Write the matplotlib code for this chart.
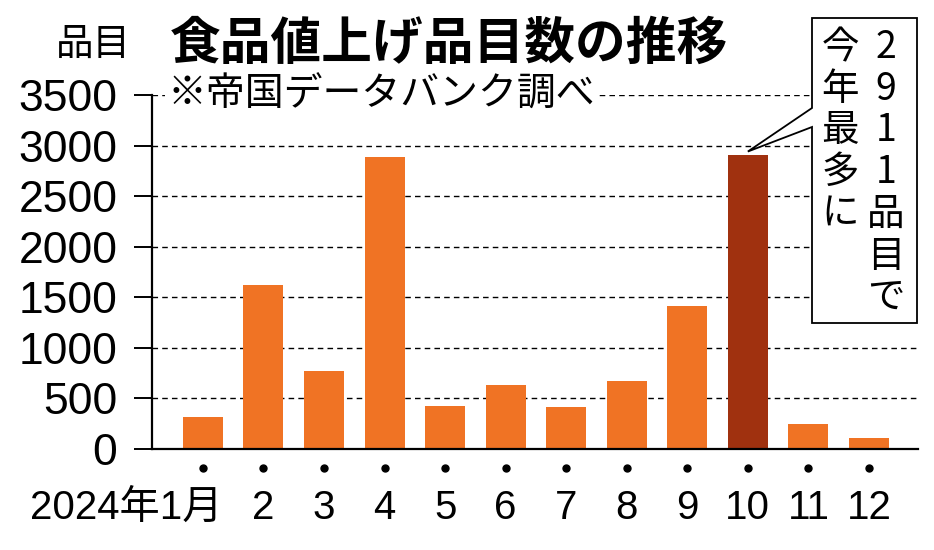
import matplotlib
matplotlib.use("Agg")
import matplotlib.pyplot as plt
from matplotlib.patches import Polygon
from matplotlib import font_manager as fm

months = ["2024年1月", "2", "3", "4", "5", "6", "7", "8", "9", "10", "11", "12"]
values = [316, 1625, 770, 2890, 430, 630, 420, 668, 1417, 2911, 252, 110]
highlight_idx = 9
yticks = [0, 500, 1000, 1500, 2000, 2500, 3000, 3500]

title = "食品値上げ品目数の推移"
unit = "品目"
source = "※帝国データバンク調べ"
note_right = "2911品目で"
note_left = "今年最多に"

ORANGE = "#F07324"
DARK = "#A0310F"
CJK = "Noto Sans CJK JP"
names = {f.name for f in fm.fontManager.ttflist}
NUM = "Liberation Sans Narrow" if "Liberation Sans Narrow" in names else "Liberation Sans"

W, H = 934, 550
fig = plt.figure(figsize=(W / 100, H / 100), dpi=100)
L, R, T, B = 152, 918, 95, 449
ax = fig.add_axes([L / W, 1 - B / H, (R - L) / W, (B - T) / H])

x = list(range(len(values)))
colors = [DARK if i == highlight_idx else ORANGE for i in x]
ax.bar(x, values, width=0.66, color=colors, zorder=3)
ax.set_xlim(-0.84, len(values) - 1 + 0.81)
ax.set_ylim(0, 3500)

for s in ["top", "right"]:
    ax.spines[s].set_visible(False)
ax.spines["left"].set_linewidth(1.6)
ax.spines["bottom"].set_linewidth(1.6)
ax.spines["left"].set_zorder(5)
ax.spines["bottom"].set_zorder(5)

ax.set_yticks(yticks)
ax.set_yticklabels([str(v) for v in yticks], fontfamily="Liberation Sans", fontsize=32)
ax.tick_params(axis="y", direction="out", length=13, width=1.4, pad=12)
ax.set_xticks([])
for v in yticks[1:]:
    ax.axhline(v, color="black", lw=1.0, ls=(0, (4, 3)), zorder=1)

# dots and month labels
ax.plot(x, [-190] * len(x), "o", color="black", ms=5, clip_on=False)
for i, m in enumerate(months):
    if i == 0:
        ax.text(i + 0.32, -580, m, ha="right", va="center", fontsize=29,
                family=[NUM, CJK])
    else:
        ax.text(i, -580, m, ha="center", va="center", fontsize=29,
                family=[NUM, CJK])

# titles
fig.text(56 / W, 1 - 44 / H, unit, fontsize=27, family=CJK, ha="left", va="center")
fig.text(170 / W, 1 - 44 / H, title, fontsize=36.5, family=CJK, weight="bold",
         ha="left", va="center")
ax.text(0.02, 3500, source, fontsize=28, family=CJK, ha="left", va="center",
        transform=ax.get_yaxis_transform(), zorder=4,
        bbox=dict(facecolor="white", edgecolor="none", pad=2))

# callout box with tail pointing at the highlighted bar
fig.canvas.draw()
apex_disp = ax.transData.transform((highlight_idx, values[highlight_idx] + 30))
ax_px = apex_disp[0]
ay_px = H - apex_disp[1]
bx0, bx1, by0, by1 = 812, 917, 18, 323
pts = [(bx0, by0), (bx1, by0), (bx1, by1), (bx0, by1), (bx0, 127),
       (ax_px, ay_px), (bx0, 108)]
pts = [(px / W, 1 - py / H) for px, py in pts]
fig.patches.append(Polygon(pts, closed=True, facecolor="white", edgecolor="black",
                           lw=1.3, transform=fig.transFigure, zorder=6))

fig.text(886 / W, 1 - 28 / H, "\n".join(note_right), fontsize=27, family=CJK,
         ha="center", va="top", linespacing=1.09, zorder=7)
fig.text(840 / W, 1 - 28 / H, "\n".join(note_left), fontsize=27, family=CJK,
         ha="center", va="top", linespacing=1.09, zorder=7)

fig.savefig("out.png", dpi=100)
